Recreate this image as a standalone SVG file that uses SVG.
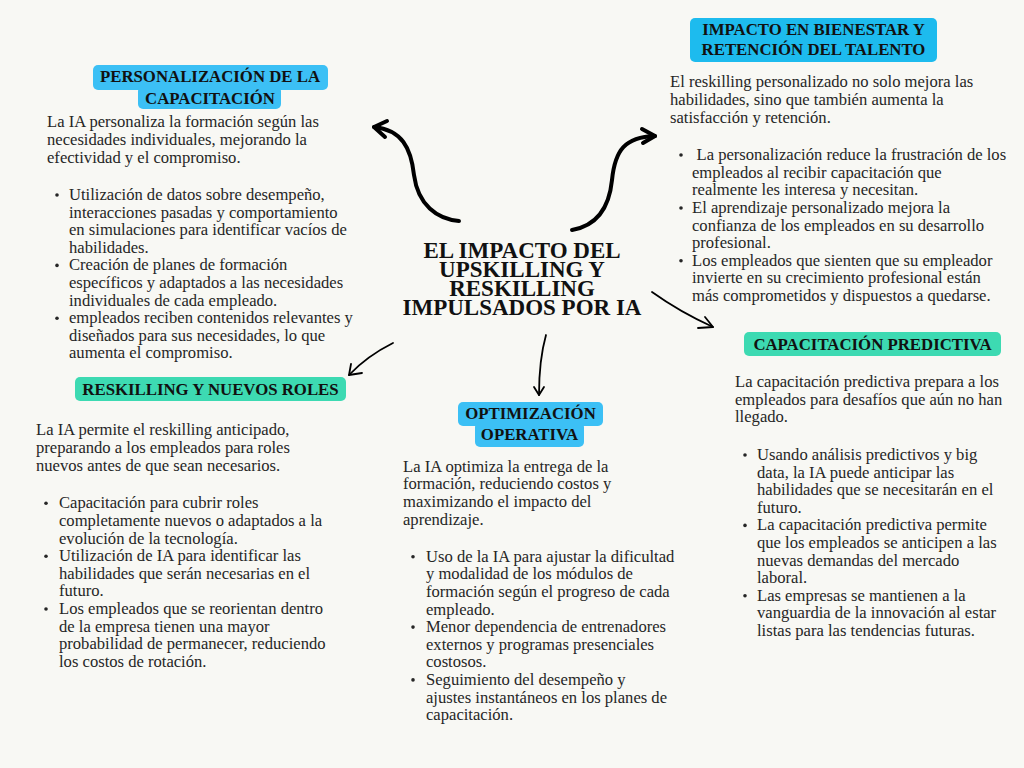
<svg xmlns="http://www.w3.org/2000/svg" width="1024" height="768" viewBox="0 0 1024 768">
<defs>
<style>
.bg{fill:#f8f8f4}
.blue{fill:#3cc0f5}
.blue2{fill:#1dbbee}
.green{fill:#3ddab2}
.hd{font-family:"Liberation Serif","Times New Roman",serif;font-weight:bold;font-size:16.8px;fill:#111;text-anchor:middle}
.title{font-family:"Liberation Serif","Times New Roman",serif;font-weight:bold;font-size:23px;fill:#111;text-anchor:middle}
.tx{font-family:"Liberation Serif","Times New Roman",serif;font-size:16.6px;fill:#262626}
.dot{fill:#262626}
.thick{fill:none;stroke:#000;stroke-width:4;stroke-linecap:round;stroke-linejoin:round}
.thin{fill:none;stroke:#000;stroke-width:1.8;stroke-linecap:round;stroke-linejoin:round}
</style>
</defs>
<rect class="bg" x="0" y="0" width="1024" height="768"/>

<g id="connectors">
<path class="thick" d="M459,221 C437,219 418,205 414,175 C411,148 402,130 374,127"/>
<path class="thick" d="M387,121 L374,127 L385,137"/>
<path class="thick" d="M572,230 C595,226 609,210 612,180 C615,150 625,137 655,136"/>
<path class="thick" d="M642,129 L655,136 L643,143"/>
<path class="thin" d="M652,292 Q680,312 713,327"/>
<path class="thin" d="M705,317 L713,327 L698,328"/>
<path class="thin" d="M393,343 Q367,356 349,375"/>
<path class="thin" d="M351,364 L349,375 L362,373"/>
<path class="thin" d="M546,335 Q539,360 539,395"/>
<path class="thin" d="M534,387 L539,395 L544,387"/>
</g>

<g id="center">
<text class="title" x="522" y="258">EL IMPACTO DEL</text>
<text class="title" x="522" y="277">UPSKILLING Y</text>
<text class="title" x="522" y="296">RESKILLING</text>
<text class="title" x="522" y="315">IMPULSADOS POR IA</text>
</g>

<g id="personalizacion">
<rect class="blue" x="93" y="65" width="235" height="25" rx="5"/>
<rect class="blue" x="138" y="86" width="143" height="23" rx="5"/>
<text class="hd" x="210" y="82">PERSONALIZACIÓN DE LA</text>
<text class="hd" x="210" y="103.5">CAPACITACIÓN</text>
<text class="tx" x="47" y="127">La IA personaliza la formación según las</text>
<text class="tx" x="47" y="145">necesidades individuales, mejorando la</text>
<text class="tx" x="47" y="162.6">efectividad y el compromiso.</text>
<circle class="dot" cx="57" cy="195" r="1.8"/>
<circle class="dot" cx="57" cy="265.4" r="1.8"/>
<circle class="dot" cx="57" cy="318.2" r="1.8"/>
<text class="tx" x="69" y="200">Utilización de datos sobre desempeño,</text>
<text class="tx" x="69" y="217.6">interacciones pasadas y comportamiento</text>
<text class="tx" x="69" y="235.2">en simulaciones para identificar vacíos de</text>
<text class="tx" x="69" y="252.8">habilidades.</text>
<text class="tx" x="69" y="270.4">Creación de planes de formación</text>
<text class="tx" x="69" y="288">específicos y adaptados a las necesidades</text>
<text class="tx" x="69" y="305.6">individuales de cada empleado.</text>
<text class="tx" x="69" y="323.2">empleados reciben contenidos relevantes y</text>
<text class="tx" x="69" y="340.8">diseñados para sus necesidades, lo que</text>
<text class="tx" x="69" y="358.4">aumenta el compromiso.</text>
</g>

<g id="bienestar">
<rect class="blue2" x="690" y="18" width="247" height="44" rx="5"/>
<text class="hd" x="813.5" y="35">IMPACTO EN BIENESTAR Y</text>
<text class="hd" x="813.5" y="55">RETENCIÓN DEL TALENTO</text>
<text class="tx" x="670" y="87.3">El reskilling personalizado no solo mejora las</text>
<text class="tx" x="670" y="105">habilidades, sino que también aumenta la</text>
<text class="tx" x="670" y="122.5">satisfacción y retención.</text>
<circle class="dot" cx="681" cy="155" r="1.8"/>
<circle class="dot" cx="681" cy="208" r="1.8"/>
<circle class="dot" cx="681" cy="260.8" r="1.8"/>
<text class="tx" x="696.5" y="160">La personalización reduce la frustración de los</text>
<text class="tx" x="692" y="177.7">empleados al recibir capacitación que</text>
<text class="tx" x="692" y="195.3">realmente les interesa y necesitan.</text>
<text class="tx" x="692" y="213">El aprendizaje personalizado mejora la</text>
<text class="tx" x="692" y="230.6">confianza de los empleados en su desarrollo</text>
<text class="tx" x="692" y="248.2">profesional.</text>
<text class="tx" x="692" y="265.8">Los empleados que sienten que su empleador</text>
<text class="tx" x="692" y="283.4">invierte en su crecimiento profesional están</text>
<text class="tx" x="692" y="301">más comprometidos y dispuestos a quedarse.</text>
</g>

<g id="reskilling">
<rect class="green" x="75" y="377" width="271" height="24" rx="5"/>
<text class="hd" x="210.5" y="394.5">RESKILLING Y NUEVOS ROLES</text>
<text class="tx" x="36" y="435">La IA permite el reskilling anticipado,</text>
<text class="tx" x="36" y="452.8">preparando a los empleados para roles</text>
<text class="tx" x="36" y="470.5">nuevos antes de que sean necesarios.</text>
<circle class="dot" cx="46" cy="503.3" r="1.8"/>
<circle class="dot" cx="46" cy="556.2" r="1.8"/>
<circle class="dot" cx="46" cy="609" r="1.8"/>
<text class="tx" x="59" y="508.3">Capacitación para cubrir roles</text>
<text class="tx" x="59" y="526">completamente nuevos o adaptados a la</text>
<text class="tx" x="59" y="543.6">evolución de la tecnología.</text>
<text class="tx" x="59" y="561.2">Utilización de IA para identificar las</text>
<text class="tx" x="59" y="578.8">habilidades que serán necesarias en el</text>
<text class="tx" x="59" y="596.4">futuro.</text>
<text class="tx" x="59" y="614">Los empleados que se reorientan dentro</text>
<text class="tx" x="59" y="631.6">de la empresa tienen una mayor</text>
<text class="tx" x="59" y="649.2">probabilidad de permanecer, reduciendo</text>
<text class="tx" x="59" y="666.8">los costos de rotación.</text>
</g>

<g id="optimizacion">
<rect class="blue" x="458" y="402" width="145" height="24" rx="5"/>
<rect class="blue" x="475" y="422" width="109" height="25" rx="5"/>
<text class="hd" x="530.5" y="419">OPTIMIZACIÓN</text>
<text class="hd" x="529.5" y="439.5">OPERATIVA</text>
<text class="tx" x="403" y="471.7">La IA optimiza la entrega de la</text>
<text class="tx" x="403" y="489.3">formación, reduciendo costos y</text>
<text class="tx" x="403" y="506.9">maximizando el impacto del</text>
<text class="tx" x="403" y="524.5">aprendizaje.</text>
<circle class="dot" cx="413" cy="556.7" r="1.8"/>
<circle class="dot" cx="413" cy="627.1" r="1.8"/>
<circle class="dot" cx="413" cy="679.9" r="1.8"/>
<text class="tx" x="426" y="561.7">Uso de la IA para ajustar la dificultad</text>
<text class="tx" x="426" y="579.3">y modalidad de los módulos de</text>
<text class="tx" x="426" y="596.9">formación según el progreso de cada</text>
<text class="tx" x="426" y="614.5">empleado.</text>
<text class="tx" x="426" y="632.1">Menor dependencia de entrenadores</text>
<text class="tx" x="426" y="649.7">externos y programas presenciales</text>
<text class="tx" x="426" y="667.3">costosos.</text>
<text class="tx" x="426" y="684.9">Seguimiento del desempeño y</text>
<text class="tx" x="426" y="702.5">ajustes instantáneos en los planes de</text>
<text class="tx" x="426" y="720.1">capacitación.</text>
</g>

<g id="predictiva">
<rect class="green" x="744" y="332" width="257" height="24" rx="5"/>
<text class="hd" x="872.5" y="349.5">CAPACITACIÓN PREDICTIVA</text>
<text class="tx" x="735" y="386.7">La capacitación predictiva prepara a los</text>
<text class="tx" x="735" y="404.5">empleados para desafíos que aún no han</text>
<text class="tx" x="735" y="422.2">llegado.</text>
<circle class="dot" cx="745" cy="455" r="1.8"/>
<circle class="dot" cx="745" cy="525.4" r="1.8"/>
<circle class="dot" cx="745" cy="595.8" r="1.8"/>
<text class="tx" x="757" y="460">Usando análisis predictivos y big</text>
<text class="tx" x="757" y="477.6">data, la IA puede anticipar las</text>
<text class="tx" x="757" y="495.2">habilidades que se necesitarán en el</text>
<text class="tx" x="757" y="512.8">futuro.</text>
<text class="tx" x="757" y="530.4">La capacitación predictiva permite</text>
<text class="tx" x="757" y="548">que los empleados se anticipen a las</text>
<text class="tx" x="757" y="565.6">nuevas demandas del mercado</text>
<text class="tx" x="757" y="583.2">laboral.</text>
<text class="tx" x="757" y="600.8">Las empresas se mantienen a la</text>
<text class="tx" x="757" y="618.4">vanguardia de la innovación al estar</text>
<text class="tx" x="757" y="636">listas para las tendencias futuras.</text>
</g>
</svg>
